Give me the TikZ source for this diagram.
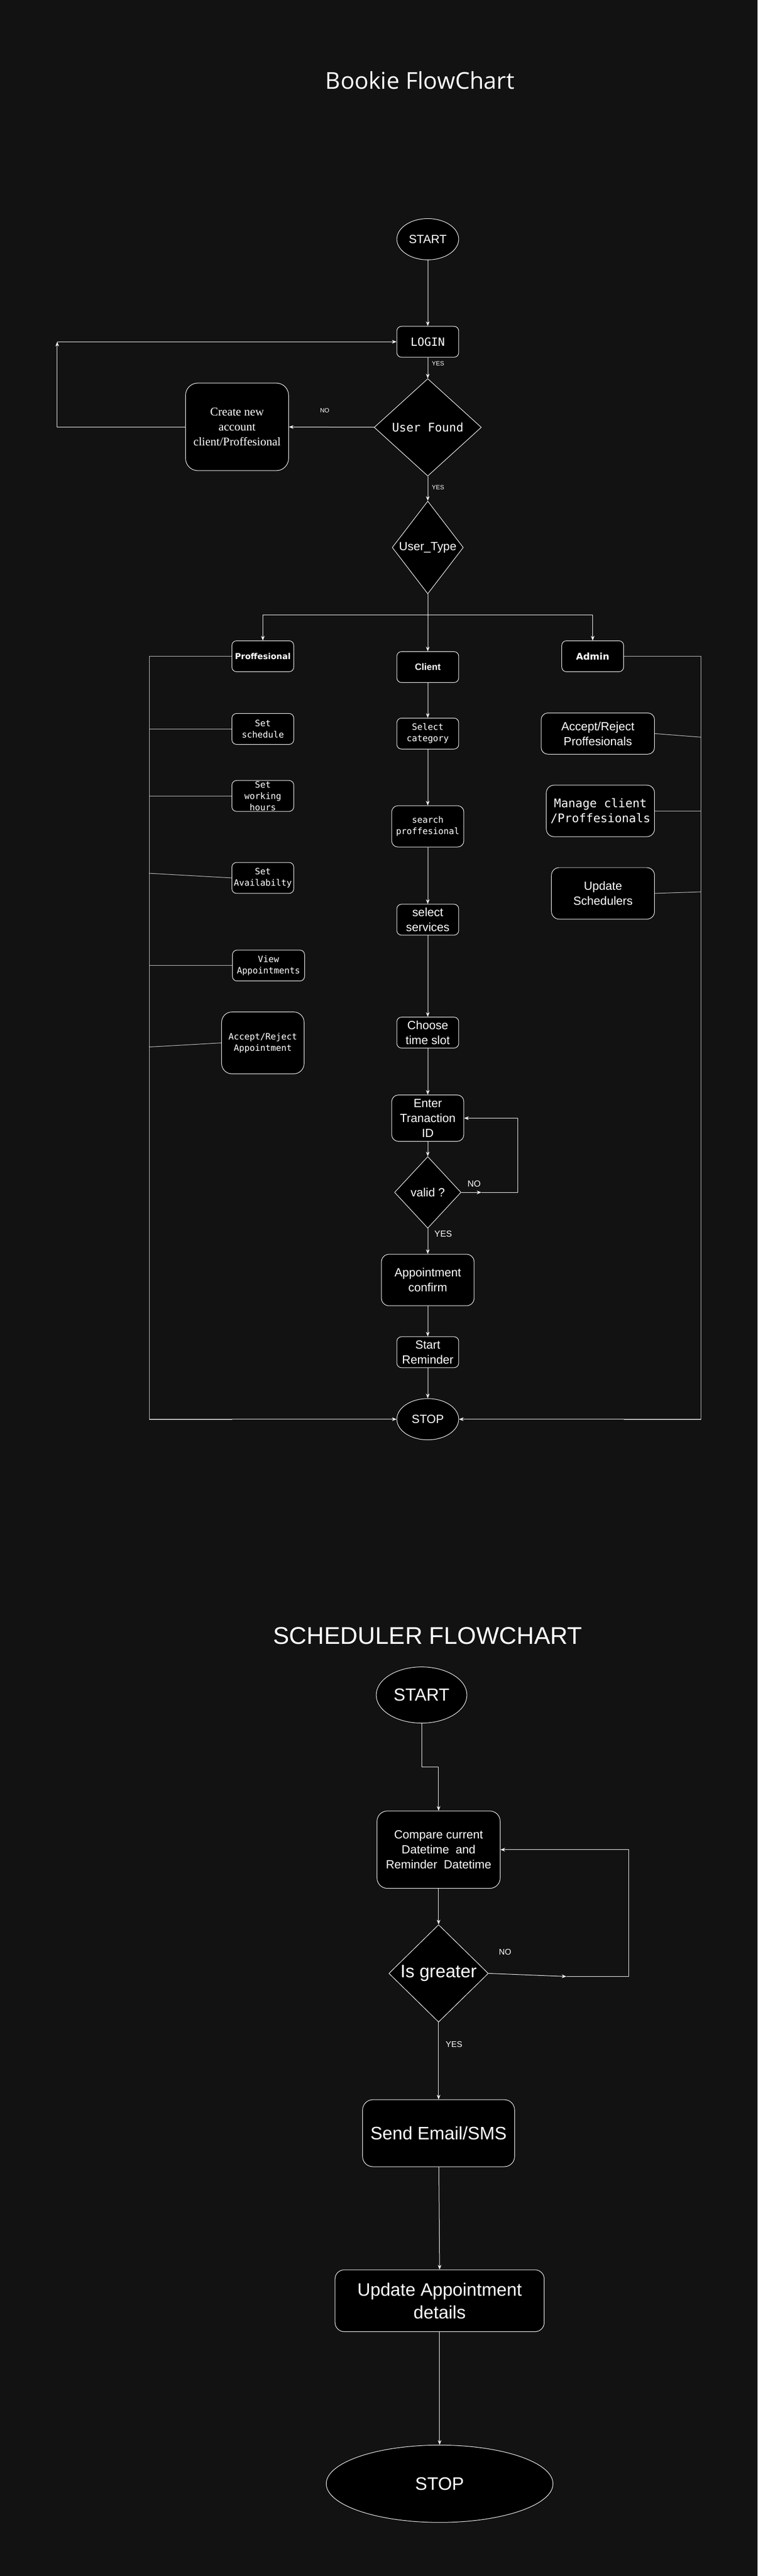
\documentclass[tikz,border=0pt]{standalone}
\usepackage{fontspec}
\setmainfont{Liberation Sans}
\newfontfamily\monof{DejaVu Sans Mono}
\newfontfamily\serf{Liberation Serif}
\newfontfamily\verd{DejaVu Sans}
\newfontfamily\tahom{Open Sans}
\usetikzlibrary{shapes.geometric,arrows.meta}
\definecolor{bgc}{RGB}{18,18,18}
\definecolor{brk}{RGB}{200,200,200}
\newcommand{\fsz}[2]{\fontsize{#1}{#2}\selectfont}
\begin{document}
\begin{tikzpicture}[x=1pt,y=-1pt,line join=round,>={Stealth[length=9pt,width=7pt]},
	box/.style={draw=white,fill=black,text=white,rounded corners=9pt,inner sep=0pt,align=center,line width=1pt},
	dia/.style={diamond,draw=white,fill=black,text=white,inner sep=0pt,align=center,line width=1pt},
	oval/.style={ellipse,draw=white,fill=black,text=white,inner sep=0pt,line width=1pt},
	mono/.style={font=\monof\fsz{17}{22}},
	bigmono/.style={font=\monof\fsz{23}{29}},
	sans/.style={font=\fsz{23}{29}},
	huge/.style={font=\fsz{35}{44}},
	lnk/.style={white,line width=1pt,->},
	brak/.style={brk,line width=1.6pt},
	lbl/.style={text=white,inner sep=0pt}]
	\fill[bgc] (-3,-3) rectangle (1467,4994);
	\useasboundingbox (0,0) rectangle (1463.6,4991);
	% bookie flowchart
	\node[lbl,font=\tahom\fsz{45}{54}] (title) at (812,153) {Bookie FlowChart};
	\node[oval,sans,minimum width=120pt,minimum height=80pt] (start1) at (827,461) {START};
	\node[box,font=\monof\fsz{22}{27},minimum width=120pt,minimum height=60pt] (login) at (827,660) {LOGIN};
	\node[dia,bigmono,minimum width=208pt,minimum height=189pt] (found) at (827,826) {User Found};
	\node[box,font=\serf\fsz{23}{29},rounded corners=24pt,minimum width=200pt,minimum height=170pt] (create) at (457,825) {Create new\\account\\client/Proffesional};
	\node[dia,sans,minimum width=138pt,minimum height=180pt] (utype) at (827,1059) {User\_Type};
	\node[box,font=\verd\bfseries\fsz{16}{20},minimum width=120pt,minimum height=60pt] (prof) at (507,1270) {Proffesional};
	\node[box,font=\bfseries\fsz{18}{22},minimum width=120pt,minimum height=60pt] (client) at (827,1291) {Client};
	\node[box,font=\verd\bfseries\fsz{18}{22},minimum width=120pt,minimum height=60pt] (admin) at (1147,1270) {Admin};
	% proffesional side
	\node[box,mono,minimum width=120pt,minimum height=60pt] (setsch) at (507,1411) {Set\\schedule};
	\node[box,mono,minimum width=120pt,minimum height=60pt] (sethrs) at (507,1541) {Set\\working\\hours};
	\node[box,mono,minimum width=120pt,minimum height=60pt] (setav) at (507,1700) {Set\\Availabilty};
	\node[box,mono,minimum width=140pt,minimum height=60pt] (viewap) at (518,1870) {View\\Appointments};
	\node[box,mono,rounded corners=20pt,minimum width=160pt,minimum height=120pt] (accap) at (507,2020) {Accept/Reject\\Appointment};
	% client side
	\node[box,mono,minimum width=120pt,minimum height=60pt] (selcat) at (827,1420) {Select\\category};
	\node[box,mono,rounded corners=12pt,minimum width=140pt,minimum height=80pt] (search) at (827,1600) {search\\proffesional};
	\node[box,sans,minimum width=120pt,minimum height=60pt] (selsrv) at (827,1781) {select\\services};
	\node[box,sans,minimum width=120pt,minimum height=60pt] (chtime) at (827,2000) {Choose\\time slot};
	\node[box,sans,rounded corners=13pt,minimum width=140pt,minimum height=90pt] (enter) at (827,2166) {Enter\\Tranaction\\ID};
	\node[dia,sans,minimum width=129pt,minimum height=139pt] (valid) at (827,2310) {valid ?};
	\node[box,sans,rounded corners=15pt,minimum width=180pt,minimum height=100pt] (confirm) at (827,2480) {Appointment\\confirm};
	\node[box,sans,minimum width=120pt,minimum height=60pt] (remind) at (827,2620) {Start\\Reminder};
	\node[oval,sans,minimum width=120pt,minimum height=80pt] (stop1) at (827,2750) {STOP};
	% admin side
	\node[box,sans,rounded corners=13pt,minimum width=220pt,minimum height=80pt] (accpro) at (1157,1420) {Accept/Reject\\Proffesionals};
	\node[box,bigmono,rounded corners=15pt,minimum width=210pt,minimum height=100pt] (manage) at (1162,1570) {Manage client\\/Proffesionals};
	\node[box,sans,rounded corners=15pt,minimum width=200pt,minimum height=100pt] (updsch) at (1167,1730) {Update\\Schedulers};
	% labels
	\node[lbl,font=\fsz{12}{14}] (y1) at (847,702) {YES};
	\node[lbl,font=\fsz{12}{14}] (n1) at (627,793) {NO};
	\node[lbl,font=\fsz{12}{14}] (y2) at (847,942) {YES};
	\node[lbl,font=\fsz{17}{20}] (n2) at (917,2293) {NO};
	\node[lbl,font=\fsz{17}{20}] (y3) at (857,2390) {YES};
	\path
	(108,660) coordinate(lp)
	(827,1190) coordinate(fork)
	(931,2310) coordinate(vn)
	(1002,2310) coordinate(vc)
	(448,2750) coordinate(bl)
	(1207,2750) coordinate(br)
	;
	\draw[lnk] (start1) -- (login);
	\draw[lnk] (login) -- (found);
	\draw[lnk] (found) -- (create);
	\draw[lnk] (create.west) -| (lp);
	\draw[lnk] (lp) -- (login.west);
	\draw[lnk] (found) -- (utype);
	\draw[lnk] (utype) -- (client);
	\draw[lnk] (fork) -| (prof.north);
	\draw[lnk] (fork) -| (admin.north);
	\foreach \a/\b in {client/selcat,selcat/search,search/selsrv,selsrv/chtime,chtime/enter,enter/valid,valid/confirm,confirm/remind,remind/stop1}
	\draw[lnk] (\a) -- (\b);
	\draw[lnk] (valid.east) -- (vn);
	\draw[lnk] (vn) -- (vc) |- (enter.east);
	% brackets
	\draw[brak] (prof.west) -| (287,2750) -- (bl);
	\draw[lnk] (bl) -- (stop1.west);
	\draw[brak] (admin.east) -| (1357,2750) -- (br);
	\draw[lnk] (br) -- (stop1.east);
	\foreach \n/\y in {setsch/1411,sethrs/1541,setav/1691,viewap/1870,accap/2028}
	\draw[brk,line width=1pt] (\n.west) -- (286,\y);
	\foreach \n/\y in {accpro/1427,manage/1570,updsch/1727}
	\draw[brk,line width=1pt] (\n.east) -- (1357,\y);
	% scheduler flowchart
	\node[lbl,font=\fsz{47}{56}] (title2) at (827,3170) {SCHEDULER FLOWCHART};
	\node[oval,font=\fsz{34}{40},minimum width=176pt,minimum height=109pt] (start2) at (815,3285) {START};
	\node[box,sans,rounded corners=20pt,minimum width=239pt,minimum height=150pt] (compare) at (848,3585) {Compare current\\Datetime~ and\\Reminder~ Datetime};
	\node[dia,huge,minimum width=193pt,minimum height=189pt] (greater) at (848,3825) {Is greater};
	\node[box,huge,rounded corners=20pt,minimum width=295pt,minimum height=130pt] (send) at (848,4135) {Send Email/SMS};
	\node[box,huge,rounded corners=18pt,minimum width=406pt,minimum height=120pt] (update) at (850,4460) {Update Appointment\\details};
	\node[oval,huge,minimum width=440pt,minimum height=150pt] (stop2) at (850,4815) {STOP};
	\node[lbl,font=\fsz{16}{19}] (n3) at (977,3783) {NO};
	\node[lbl,font=\fsz{16}{19}] (y4) at (878,3963) {YES};
	\path
	(815,3425) coordinate(sj)
	(1096,3831) coordinate(gn)
	(1217,3831) coordinate(gc)
	;
	\draw[lnk] (start2.south) -- (sj) -| (compare.north);
	\draw[lnk] (compare) -- (greater);
	\draw[lnk] (greater.east) -- (gn);
	\draw[lnk] (gn) -- (gc) |- (compare.east);
	\draw[lnk] (greater) -- (send);
	\draw[lnk] (send) -- (update.north);
	\draw[lnk] (update) -- (stop2);
\end{tikzpicture}
\end{document}
